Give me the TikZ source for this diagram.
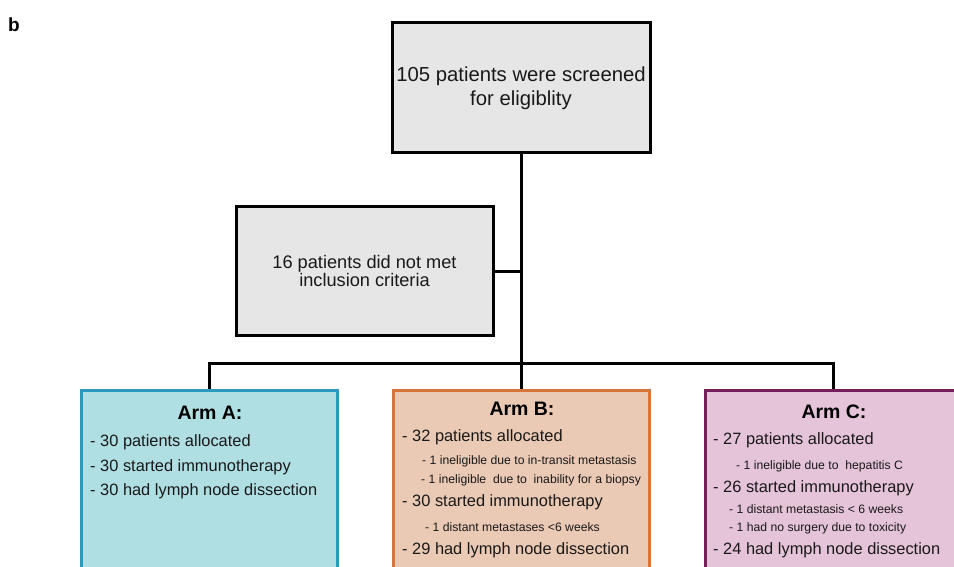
\documentclass[tikz,border=0pt]{standalone}
\usepackage{fontspec}
\setmainfont{Liberation Sans}
\usepackage{tikz}

\definecolor{boxgray}{RGB}{230,230,230}
\definecolor{armAfill}{RGB}{176,223,227}
\definecolor{armAline}{RGB}{43,154,190}
\definecolor{armBfill}{RGB}{234,201,181}
\definecolor{armBline}{RGB}{214,117,58}
\definecolor{armCfill}{RGB}{229,196,218}
\definecolor{armCline}{RGB}{117,30,92}
\definecolor{ink}{RGB}{25,25,25}

\begin{document}
\begin{tikzpicture}[x=1pt, y=-1pt,
    graybox/.style={draw=black, line width=3pt, fill=boxgray, text=ink, align=center},
    armbox/.style={line width=3pt, minimum width=256pt, minimum height=210pt},
    armtitle/.style={text=black, inner sep=0pt, font=\fontsize{19.5}{22}\selectfont\bfseries},
    mainline/.style={text=ink, inner sep=0pt, anchor=west, font=\fontsize{16.4}{19}\selectfont},
    subline/.style={text=ink, inner sep=0pt, anchor=west, font=\fontsize{12.2}{14}\selectfont},
    link/.style={line width=3pt}]
    \useasboundingbox (0,0) rectangle (954,567);
    \clip (0,0) rectangle (954,567);
    \fill[white] (0,0) rectangle (954,567);

    \node[inner sep=0pt, font=\fontsize{19}{22}\selectfont\bfseries] (panel) at (14,25) {b};

    \node[graybox, minimum width=258pt, minimum height=130pt, font=\fontsize{20.3}{24}\selectfont] (screen) at (521,88)
        {105 patients were screened\\for eligiblity};
    \node[graybox, minimum width=257pt, minimum height=128pt, font=\fontsize{18.2}{18}\selectfont] (excl) at (364.5,271)
        {16 patients did not met\\inclusion criteria};

    \node[armbox, draw=armAline, fill=armAfill] (armA) at (209,495) {};
    \node[armbox, draw=armBline, fill=armBfill] (armB) at (521,495) {};
    \node[armbox, draw=armCline, fill=armCfill] (armC) at (833,495) {};

    \coordinate (split) at (521,363);
    \draw[link] (screen) -- (armB);
    \draw[link] (excl.east) -- (excl.east -| screen.south);
    \draw[link] (armA.north) |- (split) -| (armC.north);

    % Arm A
    \node[armtitle] (titleA) at (210,413) {Arm A:};
    \node[mainline] (a1) at (90,442) {- 30 patients allocated};
    \node[mainline] (a2) at (90,467) {- 30 started immunotherapy};
    \node[mainline] (a3) at (90,491) {- 30 had lymph node dissection};

    % Arm B
    \node[armtitle] (titleB) at (522,409) {Arm B:};
    \node[mainline] (b1) at (402,437) {- 32 patients allocated};
    \node[subline] (b2) at (422,461) {- 1 ineligible due to in-transit metastasis};
    \node[subline] (b3) at (421,480) {- 1 ineligible\ \ due to\ \ inability for a biopsy};
    \node[mainline] (b4) at (402,502) {- 30 started immunotherapy};
    \node[subline] (b5) at (425,527) {- 1 distant metastases <6 weeks};
    \node[mainline] (b6) at (402,550) {- 29 had lymph node dissection};

    % Arm C
    \node[armtitle] (titleC) at (834,412) {Arm C:};
    \node[mainline] (c1) at (713,440) {- 27 patients allocated};
    \node[subline] (c2) at (736,466) {- 1 ineligible due to\ \ hepatitis C};
    \node[mainline] (c3) at (713,488) {- 26 started immunotherapy};
    \node[subline] (c4) at (729,509) {- 1 distant metastasis < 6 weeks};
    \node[subline] (c5) at (729,528) {- 1 had no surgery due to toxicity};
    \node[mainline] (c6) at (713,550) {- 24 had lymph node dissection};
\end{tikzpicture}
\end{document}
